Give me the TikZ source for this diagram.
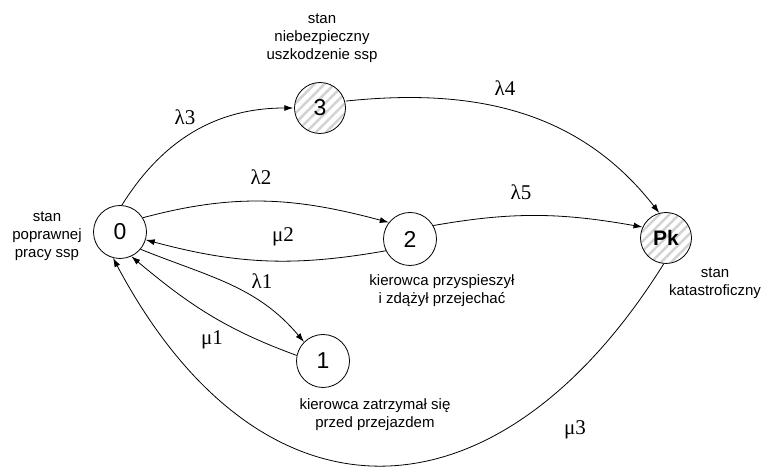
\documentclass[tikz,border=0pt]{standalone}
\usepackage{fontspec}
\setmainfont{Liberation Sans}
\newfontfamily\grk{Liberation Serif}
\usetikzlibrary{arrows.meta,patterns.meta}

\tikzset{
  stan/.style={circle,draw,minimum size=53pt,inner sep=0pt,font=\fontsize{23}{25}\selectfont},
  stankresk/.style={stan,minimum size=51pt,pattern={Lines[angle=45,distance=7pt,line width=2.5pt]},pattern color=gray!35},
  opis/.style={align=center,font=\fontsize{15}{18}\selectfont},
  intens/.style={font=\grk\fontsize{21}{23}\selectfont},
}

\begin{document}
\begin{tikzpicture}[x=1pt,y=1pt,>={Latex[length=9pt,width=6pt]},line width=0.8pt]
        \useasboundingbox (0,0) rectangle (766,468);
        % Stany
        \node[stan] (s0) at (120,236) {0};
        \node[stan] (s1) at (323,107) {1};
        \node[stan] (s2) at (410,229) {2};
        \node[stankresk] (s3) at (320,360) {3};
        \node[stankresk,font=\bfseries\fontsize{21}{23}\selectfont] (spk) at (666,230) {Pk};
        % Opisy stanow
        \node[opis] (o0) at (47,232) {stan\\poprawnej\\pracy ssp};
        \node[opis] (o3) at (322,430) {stan\\niebezpieczny\\uszkodzenie ssp};
        \node[opis] (o2) at (442,177) {kierowca przyspieszył\\i zdążył przejechać};
        \node[opis] (o1) at (375,53) {kierowca zatrzymał się\\przed przejazdem};
        \node[opis] (opk) at (715,185) {stan\\katastroficzny};
        % Przejscia
        \draw[->] (s0.86) to[out=58,in=180] (s3.west);
        \draw[->] (s3.15) to[out=6,in=128] (spk.105);
        \draw[->] (s0.32) to[out=15,in=165] (s2.142);
        \draw[->] (s2.206) to[out=190,in=-15] (s0.-17);
        \draw[->] (s2.30) to[out=10,in=170] (spk.155);
        \draw[->] (s0.-40) to[out=-22,in=130] (s1.135);
        \draw[->] (s1.168) to[out=160,in=-40] (s0.-65);
        \draw[->] (spk.-95) to[out=-122,in=-62,looseness=1.46] (s0.-105);
        % Intensywnosci
        \node[intens] (l3) at (185,351) {λ3};
        \node[intens] (l2) at (261,291) {λ2};
        \node[intens] (l4) at (505,380) {λ4};
        \node[intens] (l5) at (521,276) {λ5};
        \node[intens] (m2) at (283,231) {μ2};
        \node[intens] (l1) at (262,187) {λ1};
        \node[intens] (m1) at (212,128) {μ1};
        \node[intens] (m3) at (575,38) {μ3};
      \end{tikzpicture}
\end{document}
